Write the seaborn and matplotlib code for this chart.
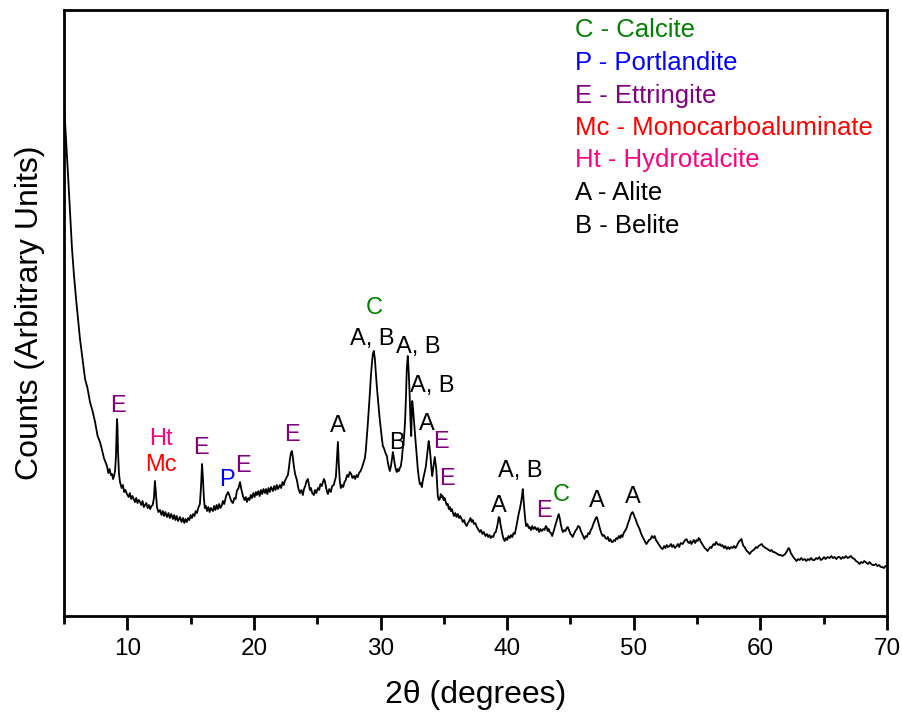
import matplotlib
matplotlib.use("Agg")
import matplotlib.pyplot as plt
import seaborn as sns
import pandas as pd

# Diffraction pattern: 2theta (degrees)
two_theta = [
    5.00, 5.08, 5.16, 5.24, 5.32, 5.48, 5.63, 5.79, 5.95, 6.10,
    6.26, 6.45, 6.66, 6.85, 7.05, 7.25, 7.45, 7.65, 7.84, 8.00,
    8.15, 8.30, 8.39, 8.50, 8.60, 8.70, 8.79, 8.87, 8.95, 9.03,
    9.10, 9.18, 9.22, 9.26, 9.34, 9.42, 9.55, 9.65, 9.75, 9.85,
    9.97, 10.1, 10.2, 10.3, 10.4, 10.5, 10.6, 10.7, 10.8, 10.9,
    11.0, 11.1, 11.2, 11.3, 11.4, 11.5, 11.6, 11.7, 11.8, 11.9,
    12.0, 12.1, 12.18, 12.26, 12.34, 12.45, 12.58, 12.7, 12.8, 12.9,
    13.0, 13.13, 13.25, 13.35, 13.47, 13.6, 13.7, 13.8, 13.9, 14.0,
    14.16, 14.28, 14.4, 14.5, 14.6, 14.7, 14.8, 14.9, 15.0, 15.1,
    15.2, 15.3, 15.4, 15.5, 15.6, 15.73, 15.82, 15.9, 15.96, 16.05,
    16.12, 16.2, 16.3, 16.4, 16.5, 16.6, 16.76, 16.85, 16.95, 17.05,
    17.15, 17.25, 17.35, 17.47, 17.55, 17.65, 17.8, 17.95, 18.05, 18.18,
    18.26, 18.34, 18.45, 18.55, 18.65, 18.78, 18.9, 19.0, 19.13, 19.25,
    19.35, 19.44, 19.55, 19.65, 19.75, 19.84, 19.95, 20.05, 20.15, 20.23,
    20.35, 20.45, 20.55, 20.65, 20.75, 20.86, 20.95, 21.05, 21.15, 21.25,
    21.35, 21.5, 21.6, 21.7, 21.8, 21.9, 22.05, 22.15, 22.25, 22.35,
    22.44, 22.55, 22.68, 22.76, 22.84, 22.92, 23.0, 23.08, 23.15, 23.25,
    23.39, 23.5, 23.63, 23.75, 23.86, 23.95, 24.05, 24.15, 24.26, 24.35,
    24.42, 24.5, 24.6, 24.73, 24.82, 24.92, 25.05, 25.15, 25.25, 25.36,
    25.45, 25.52, 25.6, 25.7, 25.78, 25.84, 25.95, 26.07, 26.18, 26.3,
    26.4, 26.47, 26.55, 26.63, 26.7, 26.78, 26.86, 26.95, 27.05, 27.15,
    27.25, 27.35, 27.45, 27.57, 27.68, 27.78, 27.9, 28.0, 28.1, 28.2,
    28.3, 28.42, 28.52, 28.62, 28.76, 28.84, 28.9, 28.98, 29.07, 29.15,
    29.23, 29.31, 29.39, 29.47, 29.55, 29.62, 29.7, 29.78, 29.86, 29.94,
    30.02, 30.1, 30.18, 30.26, 30.34, 30.42, 30.5, 30.58, 30.65, 30.73,
    30.82, 30.9, 30.97, 31.05, 31.12, 31.2, 31.28, 31.36, 31.44, 31.52,
    31.6, 31.68, 31.75, 31.83, 31.9, 31.95, 32.0, 32.07, 32.15, 32.23,
    32.3, 32.36, 32.42, 32.46, 32.5, 32.56, 32.63, 32.7, 32.78, 32.86,
    32.94, 33.02, 33.1, 33.18, 33.26, 33.33, 33.4, 33.48, 33.57, 33.65,
    33.73, 33.8, 33.88, 33.96, 34.02, 34.08, 34.14, 34.2, 34.28, 34.34,
    34.4, 34.46, 34.52, 34.6, 34.68, 34.76, 34.83, 34.9, 34.98, 35.06,
    35.15, 35.23, 35.31, 35.39, 35.47, 35.55, 35.62, 35.7, 35.8, 35.9,
    36.0, 36.1, 36.2, 36.3, 36.4, 36.5, 36.6, 36.7, 36.8, 36.9,
    37.0, 37.1, 37.2, 37.28, 37.38, 37.48, 37.6, 37.7, 37.83, 37.93,
    38.05, 38.15, 38.28, 38.4, 38.5, 38.6, 38.7, 38.8, 38.9, 39.0,
    39.1, 39.18, 39.26, 39.33, 39.4, 39.48, 39.57, 39.65, 39.72, 39.8,
    39.9, 40.0, 40.1, 40.2, 40.3, 40.4, 40.5, 40.6, 40.7, 40.83,
    40.92, 41.0, 41.1, 41.17, 41.23, 41.3, 41.37, 41.44, 41.5, 41.6,
    41.7, 41.78, 41.88, 41.98, 42.08, 42.2, 42.33, 42.43, 42.53, 42.63,
    42.73, 42.85, 42.95, 43.05, 43.12, 43.2, 43.28, 43.36, 43.46, 43.55,
    43.6, 43.7, 43.83, 43.95, 44.07, 44.15, 44.23, 44.32, 44.4, 44.5,
    44.6, 44.7, 44.78, 44.88, 45.0, 45.08, 45.17, 45.27, 45.38, 45.5,
    45.6, 45.72, 45.82, 45.96, 46.03, 46.1, 46.2, 46.3, 46.4, 46.5,
    46.6, 46.7, 46.8, 46.9, 47.0, 47.07, 47.15, 47.23, 47.33, 47.46,
    47.55, 47.65, 47.76, 47.86, 47.95, 48.05, 48.15, 48.25, 48.33, 48.43,
    48.52, 48.62, 48.72, 48.82, 48.92, 49.0, 49.1, 49.2, 49.3, 49.4,
    49.5, 49.58, 49.67, 49.75, 49.83, 49.9, 49.98, 50.06, 50.14, 50.24,
    50.34, 50.46, 50.56, 50.66, 50.78, 50.9, 51.0, 51.1, 51.2, 51.33,
    51.43, 51.55, 51.65, 51.75, 51.85, 51.96, 52.06, 52.16, 52.28, 52.4,
    52.5, 52.6, 52.7, 52.83, 52.93, 53.03, 53.13, 53.25, 53.38, 53.48,
    53.58, 53.7, 53.86, 53.95, 54.06, 54.17, 54.27, 54.37, 54.47, 54.55,
    54.65, 54.75, 54.85, 54.95, 55.05, 55.12, 55.2, 55.3, 55.4, 55.5,
    55.6, 55.7, 55.83, 55.93, 56.03, 56.12, 56.2, 56.3, 56.4, 56.5,
    56.6, 56.7, 56.8, 56.9, 57.0, 57.12, 57.22, 57.34, 57.45, 57.56,
    57.68, 57.8, 57.92, 58.02, 58.1, 58.2, 58.28, 58.36, 58.43, 58.5,
    58.58, 58.66, 58.75, 58.83, 58.93, 59.03, 59.15, 59.25, 59.35, 59.45,
    59.54, 59.65, 59.75, 59.85, 59.97, 60.1, 60.2, 60.3, 60.42, 60.56,
    60.66, 60.77, 60.88, 61.0, 61.1, 61.22, 61.35, 61.48, 61.6, 61.75,
    61.85, 61.95, 62.06, 62.15, 62.22, 62.3, 62.4, 62.5, 62.6, 62.72,
    62.85, 62.97, 63.1, 63.22, 63.35, 63.5, 63.62, 63.75, 63.88, 64.0,
    64.13, 64.27, 64.4, 64.52, 64.65, 64.77, 64.9, 65.02, 65.15, 65.3,
    65.46, 65.6, 65.72, 65.85, 66.0, 66.12, 66.25, 66.38, 66.5, 66.62,
    66.75, 66.9, 67.04, 67.15, 67.28, 67.43, 67.55, 67.68, 67.83, 67.95,
    68.08, 68.2, 68.3, 68.4, 68.5, 68.62, 68.75, 68.88, 69.0, 69.12,
    69.25, 69.38, 69.5, 69.64, 69.75, 69.88, 70.0,
]
# Diffraction pattern: intensity (arbitrary units)
counts = [
    512, 494, 476, 458, 440, 402, 367, 340, 317, 298,
    277, 258, 237, 228, 214, 205, 194, 180, 174, 166,
    158, 153, 150, 143, 147, 141, 142, 137, 140, 145,
    160, 197, 190, 165, 142, 134, 128, 131, 124, 126,
    122, 119, 123, 117, 120, 117, 114, 118, 113, 116,
    114, 111, 115, 109, 111, 113, 108, 111, 107, 110,
    111, 118, 135, 122, 109, 104, 106, 101, 105, 100,
    104, 99, 103, 98, 102, 97, 101, 96, 100, 95,
    99, 94, 98, 93, 97, 94, 98, 96, 101, 98,
    102, 100, 105, 103, 108, 112, 130, 152, 140, 117,
    108, 110, 105, 109, 104, 108, 105, 110, 106, 111,
    107, 112, 108, 111, 115, 112, 120, 124, 121, 116,
    114, 113, 118, 117, 125, 128, 134, 127, 120, 116,
    119, 114, 118, 116, 121, 118, 123, 119, 124, 121,
    125, 120, 126, 122, 127, 123, 127, 122, 128, 124,
    129, 125, 130, 126, 131, 127, 131, 128, 134, 131,
    135, 138, 141, 148, 157, 163, 165, 158, 150, 142,
    136, 128, 123, 126, 121, 127, 130, 135, 137, 131,
    126, 128, 123, 121, 126, 123, 128, 126, 132, 130,
    134, 137, 135, 128, 124, 122, 127, 124, 130, 131,
    136, 139, 157, 174, 152, 135, 128, 131, 129, 134,
    136, 141, 139, 144, 142, 138, 140, 137, 141, 139,
    143, 145, 148, 152, 158, 166, 177, 190, 207, 222,
    239, 252, 262, 265, 257, 244, 230, 218, 207, 196,
    187, 178, 170, 168, 165, 162, 160, 153, 149, 145,
    150, 157, 164, 158, 152, 147, 144, 147, 145, 148,
    150, 157, 167, 176, 187, 200, 217, 247, 260, 242,
    220, 196, 180, 200, 215, 208, 197, 185, 172, 158,
    147, 138, 132, 133, 129, 135, 139, 144, 149, 158,
    167, 175, 168, 157, 147, 140, 146, 152, 159, 153,
    147, 133, 120, 116, 117, 122, 119, 120, 116, 118,
    114, 111, 112, 107, 109, 105, 107, 104, 100, 103,
    99, 102, 98, 100, 97, 94, 96, 92, 90, 93,
    95, 98, 94, 96, 92, 93, 89, 87, 84, 86,
    82, 84, 80, 82, 79, 81, 78, 80, 79, 83,
    84, 88, 93, 99, 98, 91, 85, 80, 77, 75,
    78, 76, 80, 78, 81, 79, 83, 82, 88, 97,
    103, 107, 114, 120, 127, 115, 104, 95, 90, 92,
    88, 89, 86, 90, 87, 89, 86, 88, 84, 87,
    85, 87, 86, 90, 89, 85, 87, 84, 83, 80,
    82, 86, 92, 97, 102, 98, 92, 87, 84, 86,
    85, 88, 89, 86, 82, 81, 79, 82, 85, 87,
    90, 89, 85, 81, 79, 77, 80, 79, 83, 82,
    86, 88, 92, 95, 98, 99, 96, 92, 87, 82,
    80, 81, 78, 77, 79, 75, 77, 74, 74, 76,
    75, 78, 77, 80, 78, 81, 79, 83, 85, 87,
    91, 94, 97, 101, 103, 104, 102, 99, 97, 93,
    90, 87, 83, 80, 77, 74, 72, 74, 76, 77,
    80, 78, 80, 76, 74, 72, 70, 68, 67, 70,
    68, 71, 69, 70, 72, 69, 71, 68, 70, 72,
    69, 73, 72, 74, 76, 77, 74, 73, 75, 72,
    74, 76, 73, 76, 75, 78, 77, 74, 72, 70,
    68, 67, 65, 67, 69, 68, 70, 72, 71, 74,
    72, 71, 72, 70, 71, 68, 70, 67, 69, 67,
    69, 68, 70, 68, 69, 72, 74, 75, 76, 77,
    73, 70, 69, 67, 65, 64, 62, 64, 65, 66,
    67, 69, 68, 70, 71, 72, 70, 69, 68, 67,
    66, 65, 66, 64, 64, 63, 62, 61, 61, 60,
    61, 62, 64, 66, 68, 67, 63, 61, 59, 57,
    55, 57, 56, 58, 56, 57, 55, 57, 56, 58,
    56, 56, 58, 57, 59, 56, 57, 59, 57, 59,
    58, 60, 58, 59, 57, 59, 59, 57, 59, 58,
    60, 58, 59, 60, 58, 57, 55, 54, 52, 54,
    53, 55, 54, 53, 52, 54, 52, 51, 51, 52,
    50, 51, 49, 49, 48, 50, 50,
]

# Phase legend
phase_labels = [
    "C - Calcite", "P - Portlandite", "E - Ettringite",
    "Mc - Monocarboaluminate", "Ht - Hydrotalcite", "A - Alite", "B - Belite",
]
phase_colors = ["#008000", "#0000FF", "#800080", "#FF0000", "#FF0080", "#000000", "#000000"]

# Peak assignments: label, 2theta and height of the label, colour
peak_text = ["E", "Ht", "Mc", "E", "P", "E", "E", "A", "C", "A, B", "A, B", "A, B",
             "B", "A", "E", "E", "A", "A, B", "E", "C", "A", "A"]
peak_theta = [9.26, 12.66, 12.66, 15.81, 17.87, 19.13, 23.0, 26.63, 29.47, 29.31, 32.94,
              34.12, 31.28, 33.65, 34.76, 35.23, 39.33, 41.07, 42.88, 44.3, 47.07, 49.91]
peak_height = [210, 177, 151, 168, 136, 150, 181, 190, 308, 277, 269, 230,
               173, 192, 174, 137, 110, 145, 105, 121, 115, 119]
peak_color = ["#800080", "#FF0080", "#FF0000", "#800080", "#0000FF", "#800080", "#800080",
              "#000000", "#008000", "#000000", "#000000", "#000000", "#000000", "#000000",
              "#800080", "#800080", "#000000", "#000000", "#800080", "#008000",
              "#000000", "#000000"]

df = pd.DataFrame({"two_theta": two_theta, "counts": counts})

sns.set_style("white")
plt.rcParams["font.family"] = ["Liberation Sans", "DejaVu Sans"]

fig = plt.figure(figsize=(9.02, 7.2), dpi=100)
ax = fig.add_axes([0.0710, 0.1444, 0.9124, 0.8417])

sns.lineplot(data=df, x="two_theta", y="counts", ax=ax, color="black",
             linewidth=1.3, estimator=None, sort=False)

ax.set_xlim(5, 70)
ax.set_ylim(0, 606)
ax.set_xticks(range(10, 71, 10))
ax.set_xticks(range(5, 71, 10), minor=True)
ax.set_yticks([])
ax.tick_params(axis="x", which="major", direction="out", length=10, width=2,
               labelsize=17.5, pad=6, colors="black", labelcolor="black",
               bottom=True, top=False)
ax.tick_params(axis="x", which="minor", direction="out", length=6, width=2,
               colors="black", bottom=True, top=False)
for s in ax.spines.values():
    s.set_visible(True)
    s.set_linewidth(2)
    s.set_color("black")

ax.set_xlabel("2θ (degrees)", fontsize=23, labelpad=14, color="black")
ax.set_ylabel("Counts (Arbitrary Units)", fontsize=23, labelpad=14, color="black")

for txt, xt, yt, col in zip(peak_text, peak_theta, peak_height, peak_color):
    ax.text(xt, yt, txt, color=col, fontsize=17, ha="center", va="center")

legend_y = [0.967, 0.9125, 0.858, 0.805, 0.752, 0.698, 0.644]
for lab, col, yy in zip(phase_labels, phase_colors, legend_y):
    ax.text(0.621, yy, lab, color=col, fontsize=18.5, ha="left", va="center",
            transform=ax.transAxes)

fig.savefig("out.png", dpi=100)
